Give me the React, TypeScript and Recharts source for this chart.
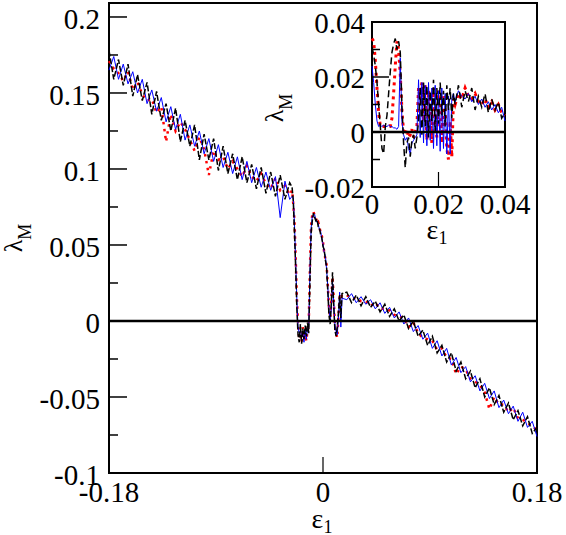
import { Line, LineChart, ReferenceArea, ReferenceLine, XAxis, YAxis } from "recharts";

const FONT = '"Liberation Serif", "Times New Roman", serif';

// main panel geometry (page pixels)
const MAIN_LEFT = 109;
const MAIN_BOTTOM = 473;
const Y_TOP = 0.2092;

// inset geometry (local to the inset svg, which sits at left 250)
const INSET_OFFSET = 250;
const INSET_LEFT = 122;
const INSET_BOTTOM = 187;

const mainEps = [
  -0.18, -0.176, -0.172, -0.168, -0.164, -0.16, -0.156, -0.152, -0.148, -0.144,
  -0.14, -0.136, -0.132, -0.128, -0.124, -0.12, -0.116, -0.112, -0.108, -0.104,
  -0.1, -0.096, -0.092, -0.088, -0.084, -0.08, -0.076, -0.072, -0.068, -0.064,
  -0.06, -0.056, -0.052, -0.048, -0.044, -0.04, -0.036, -0.032, -0.028,
  -0.026, -0.025, -0.024, -0.023, -0.022, -0.021, -0.02, -0.019, -0.018, -0.017,
  -0.016, -0.015, -0.014, -0.013, -0.012, -0.011, -0.01, -0.009, -0.008, -0.007,
  -0.006, -0.005, -0.004, -0.003, -0.002, -0.001, 0, 0.001, 0.002, 0.003,
  0.004, 0.005, 0.006, 0.007, 0.008, 0.009, 0.01, 0.011, 0.012, 0.013,
  0.014, 0.015, 0.016,
  0.02, 0.024, 0.028, 0.032, 0.036, 0.04, 0.044, 0.048, 0.052, 0.056,
  0.06, 0.064, 0.068, 0.072, 0.076, 0.08, 0.084, 0.088, 0.092, 0.096,
  0.1, 0.104, 0.108, 0.112, 0.116, 0.12, 0.124, 0.128, 0.132, 0.136,
  0.14, 0.144, 0.148, 0.152, 0.156, 0.16, 0.164, 0.168, 0.172, 0.176, 0.18,
];

const mainBlack = [
  0.178, 0.159, 0.172, 0.155, 0.169, 0.148, 0.162, 0.145, 0.157, 0.136,
  0.151, 0.132, 0.143, 0.125, 0.14, 0.118, 0.132, 0.115, 0.129, 0.106,
  0.123, 0.106, 0.12, 0.099, 0.115, 0.097, 0.11, 0.093, 0.108, 0.091,
  0.103, 0.087, 0.101, 0.084, 0.098, 0.082, 0.096, 0.08, 0.091,
  0.088, 0.079, 0.058, 0.035, 0.008, -0.009, -0.014, -0.002, -0.015, -0.005,
  -0.012, -0.003, -0.01, -0.001, -0.008, 0.026, 0.058, 0.066, 0.071, 0.068,
  0.066, 0.067, 0.062, 0.061, 0.057, 0.055, 0.049, 0.047, 0.04, 0.036,
  0.02, 0.004, -0.002, 0.012, 0.032, 0.01, -0.006, -0.01, -0.004, 0.006,
  0.017, 0.002, 0.018,
  0.019, 0.012, 0.017, 0.01, 0.016, 0.009, 0.013, 0.006, 0.011, 0.003,
  0.008, 0.0, 0.004, -0.005, 0.0, -0.01, -0.006, -0.016, -0.01, -0.021,
  -0.016, -0.027, -0.021, -0.033, -0.027, -0.038, -0.033, -0.044, -0.038, -0.05,
  -0.044, -0.055, -0.049, -0.06, -0.054, -0.065, -0.059, -0.069, -0.063, -0.074, -0.07,
];

const mainBlue = [
  0.165, 0.174, 0.159, 0.169, 0.156, 0.164, 0.15, 0.159, 0.143, 0.152,
  0.138, 0.147, 0.131, 0.141, 0.126, 0.136, 0.119, 0.129, 0.115, 0.125,
  0.11, 0.12, 0.105, 0.116, 0.101, 0.111, 0.097, 0.108, 0.093, 0.105,
  0.091, 0.101, 0.088, 0.098, 0.086, 0.095, 0.068, 0.092, 0.08,
  0.082, 0.081, 0.064, 0.04, 0.014, -0.004, -0.008, -0.006, -0.01, -0.008,
  -0.014, -0.006, -0.012, -0.005, -0.004, 0.032, 0.061, 0.069, 0.069, 0.07,
  0.066, 0.065, 0.064, 0.06, 0.059, 0.054, 0.051, 0.045, 0.043, 0.034,
  0.023, 0.008, 0.001, 0.008, 0.026, 0.013, -0.002, -0.007, -0.009, 0.002,
  0.019, -0.004, 0.015,
  0.014, 0.018, 0.012, 0.016, 0.011, 0.014, 0.008, 0.012, 0.005, 0.009,
  0.002, 0.006, -0.002, 0.002, -0.007, -0.003, -0.012, -0.008, -0.018, -0.013,
  -0.023, -0.018, -0.029, -0.024, -0.034, -0.03, -0.04, -0.036, -0.046, -0.041,
  -0.051, -0.046, -0.057, -0.052, -0.061, -0.056, -0.066, -0.06, -0.07, -0.066, -0.076,
];

const mainRed = [
  0.171, 0.166, 0.163, 0.158, 0.164, 0.152, 0.157, 0.149, 0.145, 0.146,
  0.137, 0.141, 0.118, 0.136, 0.125, 0.131, 0.126, 0.119, 0.112, 0.121,
  0.113, 0.096, 0.112, 0.106, 0.108, 0.1, 0.105, 0.1, 0.095, 0.102,
  0.095, 0.092, 0.097, 0.09, 0.087, 0.094, 0.086, 0.089, 0.083,
  0.086, 0.077, 0.066, 0.042, 0.016, -0.002, -0.012, -0.008, -0.014, -0.004,
  -0.012, -0.009, -0.013, -0.006, -0.002, 0.034, 0.063, 0.07, 0.072, 0.069,
  0.068, 0.064, 0.065, 0.062, 0.058, 0.056, 0.052, 0.045, 0.041, 0.037,
  0.024, 0.009, 0.002, 0.014, 0.029, 0.015, -0.003, -0.008, -0.011, 0.003,
  0.016, 0.018, 0.016,
  0.017, 0.015, 0.015, 0.013, 0.013, 0.01, 0.012, 0.008, 0.008, 0.007,
  0.004, 0.003, 0.002, -0.004, -0.001, -0.008, -0.011, -0.012, -0.013, -0.019,
  -0.018, -0.024, -0.025, -0.035, -0.03, -0.032, -0.038, -0.04, -0.042, -0.047,
  -0.058, -0.05, -0.055, -0.055, -0.06, -0.057, -0.064, -0.065, -0.067, -0.069, -0.072,
];

const insetEps = [
  0, 0.0005, 0.001, 0.0015, 0.002, 0.0025, 0.003, 0.0035, 0.004, 0.0045,
  0.005, 0.0055, 0.006, 0.0065, 0.007, 0.0075, 0.008, 0.0085, 0.009, 0.0095,
  0.01, 0.0105, 0.011, 0.0115, 0.012, 0.0125, 0.013, 0.0135, 0.014, 0.0145,
  0.015, 0.0155, 0.016, 0.0165, 0.017, 0.0175, 0.018, 0.0185, 0.019, 0.0195,
  0.02, 0.0205, 0.021, 0.0215, 0.022, 0.0225, 0.023, 0.0235, 0.024, 0.0245,
  0.025,
  0.026, 0.027, 0.028, 0.029, 0.03, 0.031, 0.032, 0.033, 0.034, 0.035,
  0.036, 0.037, 0.038, 0.039, 0.04,
];

const insetBlack = [
  0.031, 0.028, 0.024, 0.018, 0.01, 0.002, -0.006, -0.008, 0.002, 0.006,
  0.014, 0.022, 0.029, 0.032, 0.034, 0.03, 0.033, 0.029, 0.01, -0.004,
  -0.013, -0.004, -0.002, -0.009, -0.003, -0.001, -0.006, -0.002, 0.004, 0.016,
  -0.001, 0.018, 0.002, 0.017, -0.002, 0.015, 0.004, 0.019, 0.0, 0.016,
  0.003, 0.018, 0.006, 0.015, 0.002, 0.017, 0.008, 0.016, 0.005, 0.014,
  0.01,
  0.017, 0.009, 0.015, 0.011, 0.016, 0.008, 0.013, 0.009, 0.014, 0.007,
  0.012, 0.008, 0.011, 0.005, 0.007,
];

const insetBlue = [
  0.024, 0.018, 0.01, 0.004, 0.002, 0.0025, 0.002, 0.0025, 0.002, 0.002,
  0.0025, 0.002, 0.002, 0.0015, 0.0015, 0.001, 0.002, 0.027, 0.004, -0.001,
  -0.003, -0.002, -0.006, -0.008, -0.004, -0.003, -0.002, -0.001, 0.019, -0.002,
  0.018, -0.004, 0.017, -0.005, 0.018, -0.003, 0.016, -0.006, 0.017, -0.005,
  0.015, -0.007, 0.016, -0.006, 0.014, -0.008, 0.013, -0.008, 0.012, 0.014,
  0.011,
  0.015, 0.013, 0.012, 0.014, 0.011, 0.013, 0.01, 0.012, 0.009, 0.011,
  0.008, 0.01, 0.007, 0.009, 0.004,
];

const insetRed = [
  0.034, 0.033, 0.026, 0.016, 0.007, 0.002, 0.002, 0.002, 0.002, 0.002,
  0.002, 0.002, 0.005, 0.014, 0.024, 0.033, 0.03, 0.021, 0.008, 0.0,
  -0.001, 0.001, -0.002, -0.001, 0.001, -0.002, 0.0, 0.002, 0.016, 0.012,
  0.018, 0.004, 0.017, -0.003, 0.015, 0.01, -0.004, 0.016, 0.006, -0.002,
  0.015, 0.011, -0.004, 0.013, 0.008, -0.006, -0.01, 0.004, -0.009, 0.012,
  0.01,
  0.014, 0.012, 0.016, 0.013, 0.012, 0.014, 0.011, 0.01, 0.012, 0.009,
  0.011, 0.008, 0.01, 0.007, 0.006,
];

const mainXTicks = [-0.18, 0, 0.18];
const mainYTicks = [-0.1, -0.075, -0.05, -0.025, 0, 0.025, 0.05, 0.075, 0.1, 0.125, 0.15, 0.175, 0.2];
const mainYLabels = [-0.1, -0.05, 0, 0.05, 0.1, 0.15, 0.2];
const insetXTicks = [0, 0.02, 0.04];
const insetYTicks = [-0.02, -0.01, 0, 0.01, 0.02, 0.03, 0.04];
const insetYLabels = [-0.02, 0, 0.02, 0.04];

const mainRows = mainEps.map((eps, i) => ({
  eps,
  red: mainRed[i],
  blue: mainBlue[i],
  black: mainBlack[i],
}));

const insetRows = insetEps.map((eps, i) => ({
  eps,
  red: insetRed[i],
  blue: insetBlue[i],
  black: insetBlack[i],
}));

const textStyle = { fontFamily: FONT };

function TickText({ x, y, anchor, children }: { x: number; y: number; anchor: "start" | "middle" | "end"; children: any }) {
  return (
    <text x={x} y={y} dy="0.35em" textAnchor={anchor} fontSize={29} fill="#000" style={textStyle}>
      {children}
    </text>
  );
}

function MainYTick(props: any) {
  const { y, payload } = props;
  const major = mainYLabels.includes(payload.value);
  return (
    <g>
      <line x1={MAIN_LEFT} x2={MAIN_LEFT + (major ? 18 : 9)} y1={y} y2={y} stroke="#000" strokeWidth={1.5} />
      {major && (
        <TickText x={100} y={y + 2} anchor="end">
          {String(payload.value)}
        </TickText>
      )}
    </g>
  );
}

function MainXTick(props: any) {
  const { x, payload } = props;
  return (
    <g>
      {payload.value === 0 && (
        <line x1={x} x2={x} y1={MAIN_BOTTOM} y2={MAIN_BOTTOM - 16} stroke="#000" strokeWidth={1.2} />
      )}
      <TickText x={x} y={492} anchor="middle">
        {String(payload.value)}
      </TickText>
    </g>
  );
}

function InsetYTick(props: any) {
  const { y, payload } = props;
  const major = insetYLabels.includes(payload.value);
  return (
    <g>
      <line x1={INSET_LEFT} x2={INSET_LEFT + (major ? 17 : 8)} y1={y} y2={y} stroke="#000" strokeWidth={1.5} />
      {major && (
        <TickText x={115} y={y + 1} anchor="end">
          {String(payload.value)}
        </TickText>
      )}
    </g>
  );
}

function InsetXTick(props: any) {
  const { x, payload } = props;
  return (
    <g>
      {payload.value === 0.02 && (
        <line x1={x} x2={x} y1={INSET_BOTTOM} y2={INSET_BOTTOM - 15} stroke="#000" strokeWidth={1.2} />
      )}
      <TickText x={x} y={204} anchor="middle">
        {String(payload.value)}
      </TickText>
    </g>
  );
}

function LambdaTitle({ x, y }: { x: number; y: number }) {
  return (
    <text x={x} y={y} transform={`rotate(-90, ${x}, ${y})`} textAnchor="middle" fontSize={26} fill="#000" style={textStyle}>
      λ
      <tspan fontSize={18} dy={9}>
        M
      </tspan>
    </text>
  );
}

function EpsTitle({ x, y }: { x: number; y: number }) {
  return (
    <text x={x} y={y} textAnchor="middle" fontSize={28} fill="#000" style={textStyle}>
      ε
      <tspan fontSize={18} dy={5}>
        1
      </tspan>
    </text>
  );
}

export default function App() {
  return (
    <div style={{ position: "absolute", left: 0, top: 0, width: 566, height: 535, background: "#fff", fontFamily: FONT }}>
      <LineChart width={566} height={535} data={mainRows} margin={{ top: 3, right: 29, bottom: 2, left: 9 }}>
        <XAxis
          dataKey="eps"
          type="number"
          domain={[-0.18, 0.18]}
          ticks={mainXTicks}
          interval={0}
          height={60}
          axisLine={false}
          tickLine={false}
          tick={MainXTick}
          label={() => <EpsTitle x={322} y={528} />}
        />
        <YAxis
          type="number"
          domain={[-0.1, Y_TOP]}
          ticks={mainYTicks}
          interval={0}
          width={100}
          axisLine={false}
          tickLine={false}
          tick={MainYTick}
          label={() => <LambdaTitle x={22} y={238} />}
        />
        <ReferenceArea
          x1={-0.18}
          x2={0.18}
          y1={-0.1}
          y2={Y_TOP}
          fill="none"
          fillOpacity={0}
          stroke="#000"
          strokeWidth={2}
          ifOverflow="visible"
        />
        <Line dataKey="red" stroke="#ff0000" strokeWidth={2.5} strokeDasharray="2.5 4.5" dot={false} isAnimationActive={false} />
        <Line dataKey="blue" stroke="#0000ff" strokeWidth={1} dot={false} isAnimationActive={false} />
        <Line dataKey="black" stroke="#000" strokeWidth={1.5} strokeDasharray="6 2" dot={false} isAnimationActive={false} />
        <ReferenceLine y={0} stroke="#000" strokeWidth={2.5} />
      </LineChart>

      <div style={{ position: "absolute", left: INSET_OFFSET, top: 0 }}>
        <LineChart width={290} height={250} data={insetRows} margin={{ top: 22, right: 35, bottom: 23, left: 62 }}>
          <XAxis
            dataKey="eps"
            type="number"
            domain={[0, 0.04]}
            ticks={insetXTicks}
            interval={0}
            height={40}
            axisLine={false}
            tickLine={false}
            tick={InsetXTick}
            label={() => <EpsTitle x={187} y={239} />}
          />
          <YAxis
            type="number"
            domain={[-0.02, 0.04]}
            ticks={insetYTicks}
            interval={0}
            width={60}
            axisLine={false}
            tickLine={false}
            tick={InsetYTick}
            label={() => <LambdaTitle x={33} y={108} />}
          />
          <ReferenceArea
            x1={0}
            x2={0.04}
            y1={-0.02}
            y2={0.04}
            fill="none"
            fillOpacity={0}
            stroke="#000"
            strokeWidth={2}
            ifOverflow="visible"
          />
          <Line dataKey="red" stroke="#ff0000" strokeWidth={3} strokeDasharray="3 4" dot={false} isAnimationActive={false} />
          <Line dataKey="blue" stroke="#0000ff" strokeWidth={1} dot={false} isAnimationActive={false} />
          <Line dataKey="black" stroke="#000" strokeWidth={1.5} strokeDasharray="7 4" dot={false} isAnimationActive={false} />
          <ReferenceLine y={0} stroke="#000" strokeWidth={2.5} />
        </LineChart>
      </div>
    </div>
  );
}
